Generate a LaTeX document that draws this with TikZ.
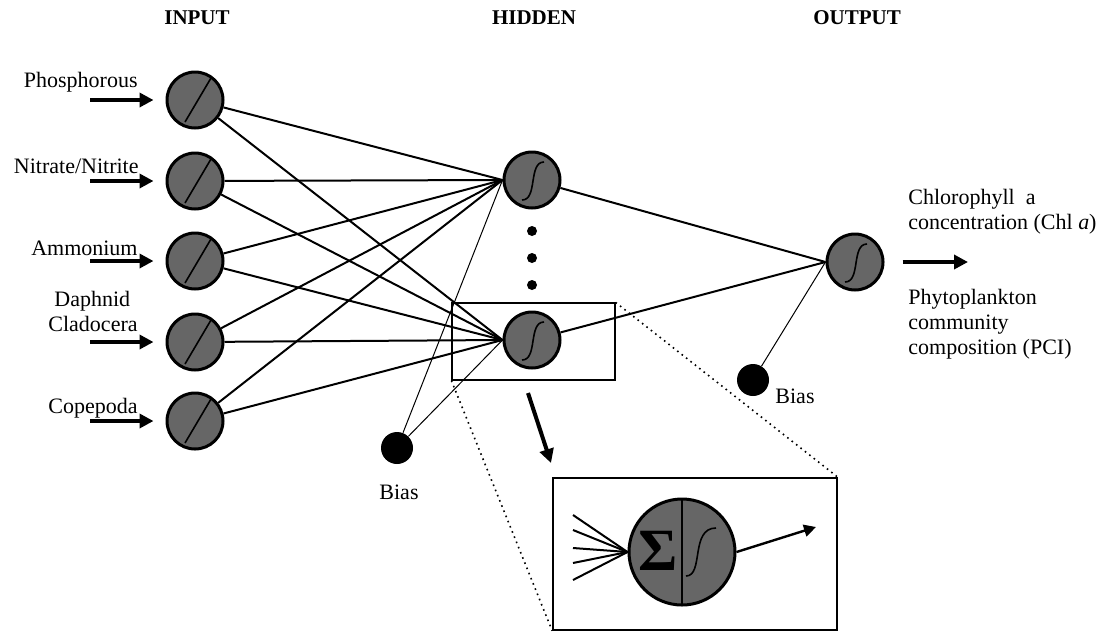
\documentclass[tikz,border=0pt]{standalone}
\usepackage{fontspec}
\setmainfont{Liberation Serif}
\usetikzlibrary{arrows.meta, positioning}
\definecolor{NeuronGray}{HTML}{666666}
\newcommand{\labelfont}{\fontsize{11}{12.5}\selectfont}
\tikzset{
    % Neuron styles
    inputnode/.style={
        circle,
        draw=black,
        fill=NeuronGray,
        line width=1.5pt,
        minimum size=28pt,
        inner sep=0pt,
        path picture={
            \draw[line width=0.8pt]
                ([shift={(-5pt,-11pt)}]path picture bounding box.center) --
                ([shift={(8pt,11pt)}]path picture bounding box.center);
        }
    },
    sigmoidnode/.style={
        circle,
        draw=black,
        fill=NeuronGray,
        line width=1.5pt,
        minimum size=28pt,
        inner sep=0pt,
        path picture={
            \draw[line width=0.8pt]
                ([shift={(-5pt,-10pt)}]path picture bounding box.center)
                .. controls ([shift={(3pt,-10pt)}]path picture bounding box.center)
                and ([shift={(-2pt,9pt)}]path picture bounding box.center) ..
                ([shift={(6pt,9pt)}]path picture bounding box.center);
        }
    },
    bigneuron/.style={
        circle,
        draw=black,
        fill=NeuronGray,
        line width=1.5pt,
        minimum size=53pt,
        inner sep=0pt,
        path picture={
            \draw[line width=0.8pt]
                (path picture bounding box.north) -- (path picture bounding box.south);
            \draw[line width=0.8pt]
                ([shift={(2pt,-12pt)}]path picture bounding box.center)
                .. controls ([shift={(11pt,-12pt)}]path picture bounding box.center)
                and ([shift={(4pt,12pt)}]path picture bounding box.center) ..
                ([shift={(17pt,12pt)}]path picture bounding box.center);
        }
    },
    biasnode/.style={
        circle,
        fill=black,
        minimum size=16pt,
        inner sep=0pt
    },
    dotnode/.style={
        circle,
        fill=black,
        minimum size=5pt,
        inner sep=0pt
    },
    header/.style={
        font=\fontsize{10.5}{12}\selectfont\bfseries
    },
    label/.style={
        font=\labelfont,
        align=left,
        inner sep=0pt
    },
    % Connector styles
    link/.style={
        line width=1pt,
        draw=black
    },
    thinlink/.style={
        line width=0.5pt,
        draw=black
    },
    thickarrow/.style={
        -{Triangle[length=7pt,width=7pt]},
        line width=2pt,
        draw=black
    },
    outarrow/.style={
        -{Triangle[length=6pt,width=6pt]},
        line width=1.2pt,
        draw=black
    },
    zoomline/.style={
        line width=0.8pt,
        dotted,
        draw=black
    }
}

\begin{document}
\begin{tikzpicture}[x=0.5pt, y=-0.5pt]
    \useasboundingbox (0,0) rectangle (1107,633);

    % Headers
    \node[header] (hin) at (197,18) {INPUT};
    \node[header] (hhid) at (534,18) {HIDDEN};
    \node[header] (hout) at (857,18) {OUTPUT};

    % Input layer
    \node[inputnode] (in1) at (195,100) {};
    \node[inputnode] (in2) at (195,181) {};
    \node[inputnode] (in3) at (195,261) {};
    \node[inputnode] (in4) at (195,342) {};
    \node[inputnode] (in5) at (195,421) {};

    \node[label, anchor=east] (lab1) at (138,82) {Phosphorous};
    \node[label, anchor=east] (lab2) at (139,166) {Nitrate/Nitrite};
    \node[label, anchor=east] (lab3) at (138,248) {Ammonium};
    \node[label, anchor=east] (lab4) at (138,311) {\hspace*{3pt}Daphnid\\Cladocera};
    \node[label, anchor=east] (lab5) at (138,408) {Copepoda};

    \coordinate (src1) at (90,100);
    \coordinate (src2) at (90,181);
    \coordinate (src3) at (90,261);
    \coordinate (src4) at (90,342);
    \coordinate (src5) at (90,421);

    \draw[thickarrow, shorten >=6pt] (src1) -- (in1);
    \draw[thickarrow, shorten >=6pt] (src2) -- (in2);
    \draw[thickarrow, shorten >=6pt] (src3) -- (in3);
    \draw[thickarrow, shorten >=6pt] (src4) -- (in4);
    \draw[thickarrow, shorten >=6pt] (src5) -- (in5);

    % Hidden layer
    \node[sigmoidnode] (hid1) at (532,180) {};
    \node[sigmoidnode] (hid2) at (532,340) {};
    \node[dotnode] (dot1) at (532,231) {};
    \node[dotnode] (dot2) at (532,258) {};
    \node[dotnode] (dot3) at (532,285) {};

    \draw[link] (in1) -- (hid1.west);
    \draw[link] (in1) -- (hid2.west);
    \draw[link] (in2) -- (hid1.west);
    \draw[link] (in2) -- (hid2.west);
    \draw[link] (in3) -- (hid1.west);
    \draw[link] (in3) -- (hid2.west);
    \draw[link] (in4) -- (hid1.west);
    \draw[link] (in4) -- (hid2.west);
    \draw[link] (in5) -- (hid1.west);
    \draw[link] (in5) -- (hid2.west);

    % Hidden bias
    \node[biasnode] (hbias) at (397,448) {};
    \node[label] (hbiaslab) at (399,492) {Bias};
    \draw[thinlink] (hbias) -- (hid1.west);
    \draw[thinlink] (hbias) -- (hid2.west);

    % Output layer
    \node[sigmoidnode] (out) at (855,262) {};
    \draw[link] (hid1) -- (out.west);
    \draw[link] (hid2) -- (out.west);

    \node[biasnode] (obias) at (753,380) {};
    \node[label] (obiaslab) at (795,396) {Bias};
    \draw[thinlink] (obias) -- (out.west);

    \coordinate (res) at (968,262);
    \draw[thickarrow, shorten <=9pt] (out) -- (res);

    \node[label, anchor=west] (outlab1) at (908,212) {Chlorophyll\enspace a\\concentration (Chl \textit{a})};
    \node[label, anchor=west] (outlab2) at (908,324) {Phytoplankton\\community\\composition (PCI)};

    % Zoomed neuron
    \node[draw, line width=0.6pt, minimum width=81.5pt, minimum height=38.5pt, inner sep=0pt] (zbox) at (533.5,341.5) {};
    \node[draw, line width=0.8pt, minimum width=142pt, minimum height=76pt, inner sep=0pt] (bigbox) at (695,554) {};
    \draw[zoomline] (zbox.south west) -- (bigbox.south west);
    \draw[zoomline] (zbox.north east) -- (bigbox.north east);

    \coordinate (zoomfrom) at (528,393);
    \coordinate (zoomto) at (551,463);
    \draw[thickarrow] (zoomfrom) -- (zoomto);

    \node[bigneuron] (neuron) at (682,552) {};
    \node[font=\fontsize{30}{32}\selectfont\bfseries, inner sep=0pt] (sigma) at (658,551) {Σ};

    \coordinate (fan1) at (573,515);
    \coordinate (fan2) at (573,530);
    \coordinate (fan3) at (573,548);
    \coordinate (fan4) at (573,563);
    \coordinate (fan5) at (573,580);
    \draw[link] (fan1) -- (neuron.west);
    \draw[link] (fan2) -- (neuron.west);
    \draw[link] (fan3) -- (neuron.west);
    \draw[link] (fan4) -- (neuron.west);
    \draw[link] (fan5) -- (neuron.west);

    \coordinate (fire) at (816,527);
    \draw[outarrow] (neuron.east) -- (fire);
\end{tikzpicture}
\end{document}
